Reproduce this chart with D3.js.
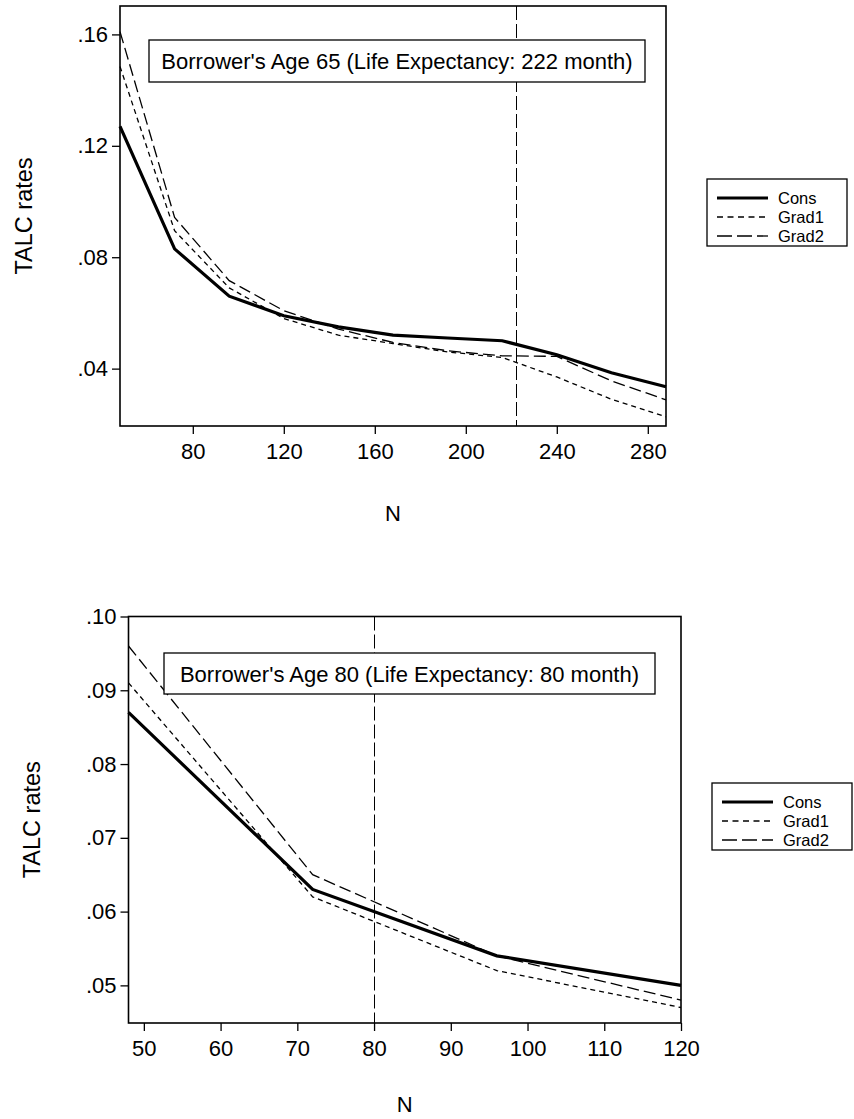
<!DOCTYPE html>
<html>
<head>
<meta charset="utf-8">
<script src="https://cdn.jsdelivr.net/npm/d3@7"></script>
<style>
  body { margin: 0; background: #fff; }
  svg text { font-family: "Liberation Sans", Arial, sans-serif; fill: #000; }
</style>
</head>
<body>
<div id="vis"></div>
<script>
const WIDTH = 854;
const HEIGHT = 1119;

// panel 1: borrower age 65
const nTop = [48, 72, 96, 120, 144, 168, 192, 216, 240, 264, 288];
const consTop = [0.127, 0.083, 0.066, 0.059, 0.055, 0.052, 0.051, 0.050, 0.045, 0.0385, 0.0335];
const grad1Top = [0.1485, 0.0895, 0.069, 0.058, 0.052, 0.049, 0.046, 0.044, 0.037, 0.029, 0.0227];
const grad2Top = [0.161, 0.0943, 0.0716, 0.0608, 0.0542, 0.0494, 0.0464, 0.0446, 0.0444, 0.0356, 0.0288];
const xTicksTop = [80, 120, 160, 200, 240, 280];
const yTicksTop = [0.04, 0.08, 0.12, 0.16];

// panel 2: borrower age 80
const nBot = [48, 72, 96, 120];
const consBot = [0.087, 0.063, 0.054, 0.050];
const grad1Bot = [0.091, 0.062, 0.052, 0.047];
const grad2Bot = [0.096, 0.065, 0.054, 0.048];
const xTicksBot = [50, 60, 70, 80, 90, 100, 110, 120];
const yTicksBot = [0.05, 0.06, 0.07, 0.08, 0.09, 0.10];

const seriesNames = ['Cons', 'Grad1', 'Grad2'];
const lifeExp = [222, 80];
const titles = ["Borrower's Age 65 (Life Expectancy: 222 month)",
                "Borrower's Age 80 (Life Expectancy: 80 month)"];

const styles = {
  Cons: { width: 3.2, dash: null, legendDash: null },
  Grad1: { width: 1.3, dash: '5,4', legendDash: '6,4.5' },
  Grad2: { width: 1.3, dash: '12,5', legendDash: '15,5' }
};

const svg = d3.select('#vis').append('svg')
  .attr('width', WIDTH)
  .attr('height', HEIGHT);

const fmt = d => d3.format('.2f')(d).replace(/^0/, '');

function drawPanel(p) {
  const x = d3.scaleLinear().domain(p.xDomain).range([p.left, p.right]);
  const y = d3.scaleLinear().domain(p.yDomain).range([p.bottom, p.top]);
  const g = svg.append('g');

  // axes
  g.append('g')
    .attr('transform', `translate(0,${p.bottom})`)
    .call(d3.axisBottom(x).tickValues(p.xTicks).tickSize(8).tickPadding(9).tickFormat(d3.format('d')))
    .call(a => a.select('.domain').remove())
    .call(a => a.selectAll('line').attr('stroke-width', 1.3))
    .call(a => a.selectAll('text').style('font-size', '22px'));

  g.append('g')
    .attr('transform', `translate(${p.left},0)`)
    .call(d3.axisLeft(y).tickValues(p.yTicks).tickSize(8).tickPadding(4).tickFormat(fmt))
    .call(a => a.select('.domain').remove())
    .call(a => a.selectAll('line').attr('stroke-width', 1.3))
    .call(a => a.selectAll('text').style('font-size', '22px'));

  // life expectancy marker
  const lx = Math.round(x(p.life)) + 0.5;
  g.append('line')
    .attr('x1', lx).attr('x2', lx)
    .attr('y1', p.top).attr('y2', p.bottom)
    .attr('stroke', '#000').attr('stroke-width', 1)
    .attr('stroke-dasharray', '14,4');

  const line = d3.line().x(d => x(d[0])).y(d => y(d[1]));
  seriesNames.forEach((name, i) => {
    const pts = p.n.map((n, j) => [n, p.series[i][j]]);
    g.append('path')
      .attr('d', line(pts))
      .attr('fill', 'none')
      .attr('stroke', '#000')
      .attr('stroke-width', styles[name].width)
      .attr('stroke-dasharray', styles[name].dash);
  });

  // frame
  g.append('rect')
    .attr('x', p.left).attr('y', p.top)
    .attr('width', p.right - p.left).attr('height', p.bottom - p.top)
    .attr('fill', 'none').attr('stroke', '#000').attr('stroke-width', 1.6);

  // text box
  const tb = g.append('g');
  tb.append('rect')
    .attr('x', p.box[0]).attr('y', p.box[1])
    .attr('width', p.box[2]).attr('height', p.box[3])
    .attr('fill', '#fff').attr('stroke', '#000').attr('stroke-width', 1.3);
  tb.append('text')
    .attr('x', p.box[0] + p.box[2] / 2)
    .attr('y', p.box[1] + p.box[3] / 2 + 8)
    .attr('text-anchor', 'middle')
    .style('font-size', '22px')
    .text(p.title);

  // axis titles
  g.append('text')
    .attr('transform', `translate(${p.yTitleX},${(p.top + p.bottom) / 2}) rotate(-90)`)
    .attr('text-anchor', 'middle')
    .style('font-size', '23.5px')
    .text('TALC rates');
  g.append('text')
    .attr('x', (p.left + p.right) / 2).attr('y', p.nY)
    .attr('text-anchor', 'middle')
    .style('font-size', '22px')
    .text('N');

  // legend
  const lg = g.append('g').attr('transform', `translate(${p.legend[0]},${p.legend[1]})`);
  lg.append('rect')
    .attr('width', 140).attr('height', 67)
    .attr('fill', '#fff').attr('stroke', '#000').attr('stroke-width', 1.3);
  seriesNames.forEach((name, i) => {
    const yy = 19 + i * 19;
    lg.append('line')
      .attr('x1', 10).attr('x2', 61).attr('y1', yy).attr('y2', yy)
      .attr('stroke', '#000')
      .attr('stroke-width', styles[name].width)
      .attr('stroke-dasharray', styles[name].legendDash);
    lg.append('text')
      .attr('x', 71).attr('y', yy + 6)
      .style('font-size', '16.5px')
      .text(name);
  });
}

drawPanel({
  left: 120, right: 666, top: 6, bottom: 426,
  xDomain: [48, 288], yDomain: [0.0194, 0.1702],
  xTicks: xTicksTop, yTicks: yTicksTop,
  n: nTop, series: [consTop, grad1Top, grad2Top],
  life: lifeExp[0], title: titles[0],
  box: [149, 40, 496, 42],
  yTitleX: 32, nY: 521,
  legend: [707, 179]
});

drawPanel({
  left: 128.5, right: 681, top: 616.5, bottom: 1023,
  xDomain: [48, 120], yDomain: [0.0449, 0.100],
  xTicks: xTicksBot, yTicks: yTicksBot,
  n: nBot, series: [consBot, grad1Bot, grad2Bot],
  life: lifeExp[1], title: titles[1],
  box: [164, 653, 491, 41],
  yTitleX: 40, nY: 1112,
  legend: [712, 783]
});
</script>
</body>
</html>
